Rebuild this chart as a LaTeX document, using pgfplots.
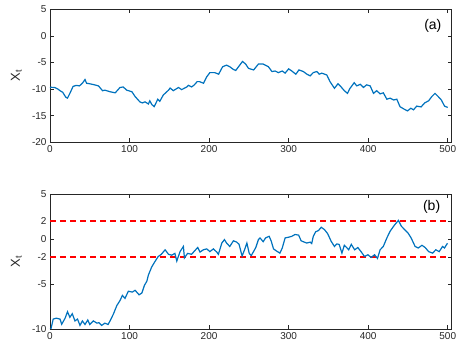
\documentclass[border=0pt]{standalone}
\usepackage{fontspec}
\setmainfont{Liberation Sans}
\usepackage{pgfplots}
\pgfplotsset{compat=1.18}
\definecolor{mblue}{rgb}{0,0.447,0.741}
\definecolor{mred}{RGB}{255,0,0}
\definecolor{axgray}{rgb}{0.15,0.15,0.15}

% path of the process X_t
\pgfplotstableread{
x y
0 -9.8
1 -9.66
6 -9.7
10 -10.0
12.6 -10.3
16 -10.6
19.7 -11.5
22 -11.7
25 -10.8
29 -9.5
33 -9.3
37 -9.4
40.7 -8.9
44 -8.2
46 -8.9
50 -9.0
56 -9.2
61 -9.4
66 -10.3
69 -10.2
75.5 -10.5
82 -10.7
88 -9.7
92 -9.6
96.5 -10.2
103 -10.5
107 -11.4
113 -12.4
116 -12.6
119.5 -12.4
123.7 -12.8
125.5 -12.2
128 -12.9
131 -13.3
135.5 -11.9
138 -12.3
142.5 -11.1
149 -10.2
151 -9.8
155 -10.3
161.5 -9.7
165.5 -10.1
172 -9.6
174 -9.3
178 -9.6
181.5 -9.2
185 -8.6
188 -8.6
193 -8.9
197 -7.7
201 -6.9
207 -6.9
212 -7.2
217 -5.8
222 -5.5
226 -5.8
230.5 -6.3
233.5 -6.5
237 -5.8
242 -4.8
246 -5.3
249.5 -6.1
256 -6.4
262 -5.3
268 -5.3
274.6 -5.8
279 -6.7
283 -6.6
287 -6.9
292 -6.6
295.6 -7.0
300 -6.2
304 -6.6
309 -7.2
313 -6.4
318.5 -6.7
323 -7.2
327 -7.5
331 -6.9
335.5 -6.7
338.5 -7.2
341.7 -7.0
348 -7.35
352 -8.6
357.6 -9.85
362 -9.0
366 -9.6
370 -10.3
374 -10.8
377 -9.9
382.4 -8.8
385.7 -9.4
390 -9.1
394 -9.7
398 -9.2
402.5 -9.4
406.7 -10.8
410.7 -10.3
415 -10.9
419 -10.7
423.5 -11.9
427.6 -11.7
432 -12.05
436 -11.9
440 -13.3
444.4 -13.7
449.4 -14.1
453.6 -13.6
457 -13.9
461 -13.2
466.5 -13.35
471 -12.6
476 -12.2
480 -11.4
484 -10.8
488 -11.4
492 -12.05
496 -13.2
500 -13.45
}\seriesA

\pgfplotstableread{
x y
0 -10.0
1.3 -9.96
4 -8.9
8 -8.8
12.6 -8.9
14.7 -9.47
19 -8.8
22 -8.08
25 -8.7
28 -8.3
31.4 -9.1
34.6 -8.9
37.7 -9.6
40.7 -9.1
44 -9.5
47.5 -9.0
50 -9.5
54.5 -9.1
59 -9.35
61.6 -9.3
65 -9.6
69 -9.35
73 -9.5
75.5 -9.1
79.7 -8.34
84 -7.4
88 -6.84
91 -6.27
94.3 -6.6
98.5 -5.8
103.5 -5.9
107 -5.7
112 -6.2
115.5 -6.0
118.7 -5.15
121.7 -4.7
123.7 -4.0
128 -3.08
132 -2.5
136 -1.95
140 -1.7
144.7 -1.2
149 -1.7
153 -1.8
157 -1.6
159.4 -2.45
163.5 -1.4
167.7 -0.83
169 -2.1
173 -1.6
178 -1.7
182 -1.3
185.7 -0.94
188.6 -1.45
192.8 -1.2
197 -1.1
201 -1.4
205.4 -1.1
209.6 -1.45
211.7 -1.7
216 -0.45
219.3 -0.07
222 -0.45
226 -0.83
230.6 -0.2
234.8 -0.35
237.7 -0.6
241.5 -1.9
245 -1.1
247.5 -0.45
250.5 -1.6
253 -1.85
258.7 -0.95
262 -0.07
264 0.12
268 -0.3
271 0.12
275.5 0.3
278 -0.2
281 -1.1
285 -1.35
289 -1.57
292 -1.0
295.6 0.12
300 0.2
304 0.3
308 0.5
312.6 0.43
315.7 -0.2
318.5 -0.3
322.7 -0.45
327 -0.35
329 -0.5
331 0.3
334 0.8
337.5 0.94
341 1.3
345 1.05
349 0.6
353.5 -0.26
357.6 -0.83
360.5 -0.55
363.5 -0.6
367 -1.57
370 -0.7
373 -0.95
375.5 -1.2
378.8 -0.6
383 -1.2
387 -0.95
391 -1.4
395.4 -1.95
399.6 -1.75
403.8 -2.05
408 -1.75
411.7 -2.15
415 -1.2
419 -0.83
423.5 0.12
427.6 0.87
433 1.54
438 2.07
441.6 1.43
445.8 1.05
450 0.68
454 0.12
459 -0.83
463 -1.0
467.6 -0.7
471.7 -0.95
476 -1.4
481 -1.57
485 -1.2
489.3 -1.4
493.5 -0.83
496 -1.0
499 -0.55
500 -0.5
}\seriesB

% the two thresholds +2 and -2
\pgfplotstableread{
x y
0 2
500 2
nan nan
0 -2
500 -2
}\bands

\begin{document}
\begin{tikzpicture}
\pgfplotsset{
  panel/.style={
    scale only axis, width=401.7pt,
    anchor=south west,
    xmin=0, xmax=505,
    xtick={0,100,...,500},
    tick align=inside,
    axis line style={axgray, line width=0.5pt},
    major tick style={axgray, line width=0.5pt},
    major tick length=4pt,
    tick label style={font=\fontsize{10}{12}\selectfont, text=axgray},
    /pgf/number format/assume math mode=true,
    ylabel={X\textsubscript{t}},
    ylabel style={font=\fontsize{13}{15}\selectfont, text=axgray,
      at={(axis description cs:-0.084,0.5)}, anchor=center},
  },
}
\path (0pt,0pt) rectangle (463pt,350pt);

\begin{axis}[panel, height=133pt, at={(50pt,207.7pt)},
  ymin=-20, ymax=5, ytick={-20,-15,...,5}]
  \addplot[draw=mblue, line width=1.2pt, mark=none] table {\seriesA};
  \node[font=\fontsize{14}{16}\selectfont] at (rel axis cs:0.953,0.877) {(a)};
\end{axis}

\begin{axis}[panel, height=135pt, at={(50pt,21pt)},
  ymin=-10, ymax=5, ytick={-10,-5,-2,0,2,5}, unbounded coords=jump]
  \addplot[color=mred, line width=1.3pt, dash pattern=on 6pt off 4pt, mark=none] table {\bands};
  \addplot[draw=mblue, line width=1.2pt, mark=none] table {\seriesB};
  \node[font=\fontsize{14}{16}\selectfont] at (rel axis cs:0.95,0.905) {(b)};
\end{axis}
\end{tikzpicture}
\end{document}
